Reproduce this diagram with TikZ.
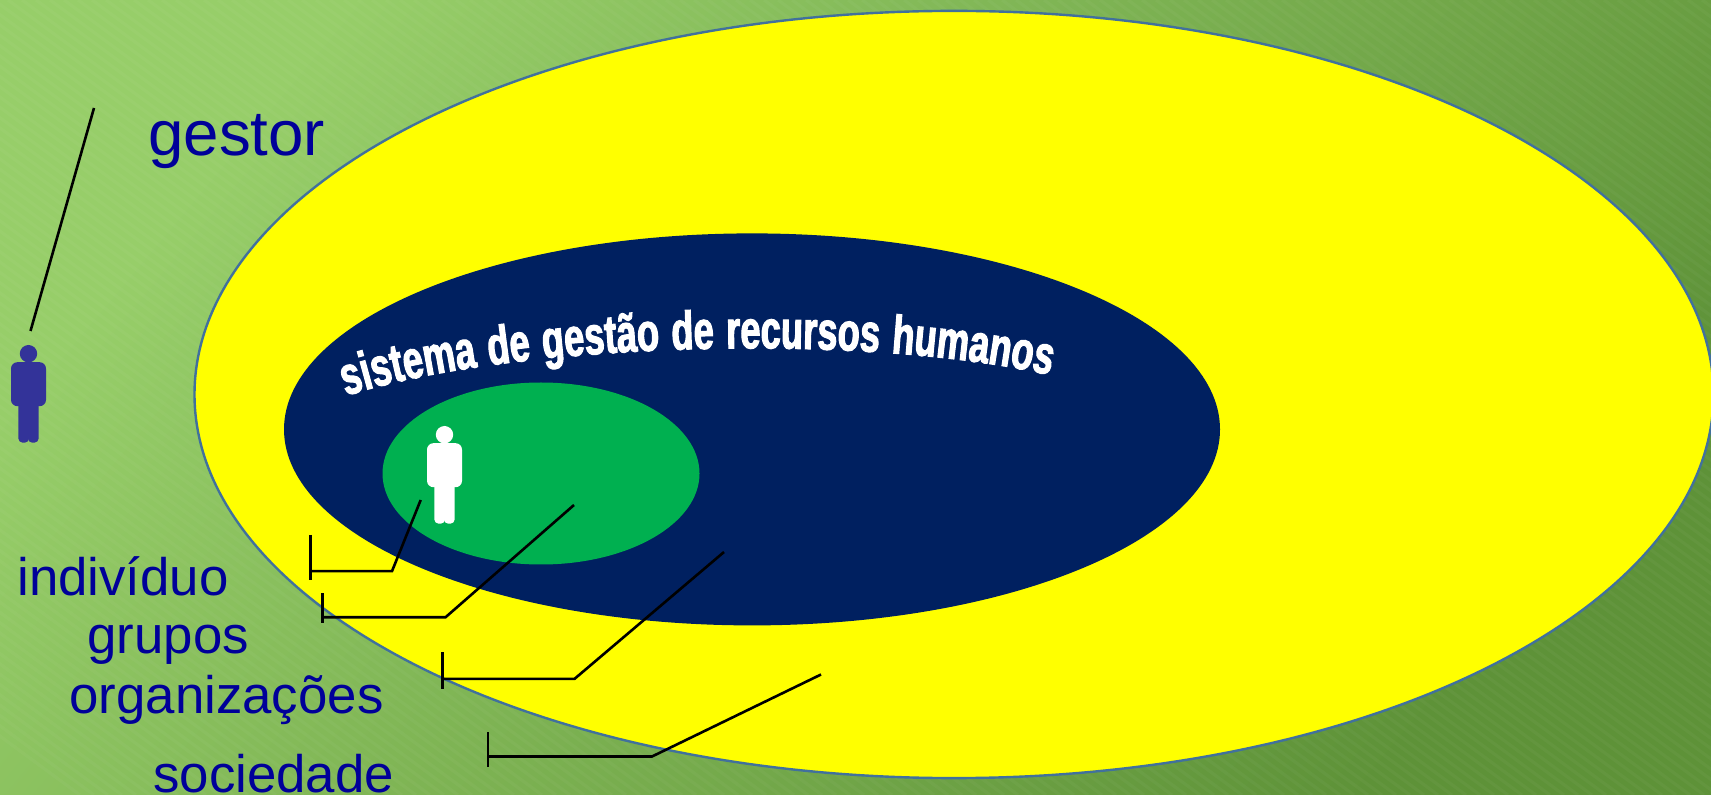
\documentclass[tikz,border=0pt]{standalone}
\usepackage{fontspec}
\setmainfont{Liberation Sans}
\newfontfamily\wafont[FakeStretch=0.67,FakeBold=2]{Liberation Sans Bold}
\usetikzlibrary{decorations.text}
\definecolor{bgA}{HTML}{97CE69}
\definecolor{bgC}{HTML}{5E9238}
\definecolor{labelblue}{HTML}{000099}
\definecolor{figblue}{HTML}{333399}
\definecolor{navyfill}{HTML}{002060}
\definecolor{greenfill}{HTML}{00B050}
\definecolor{rimblue}{HTML}{41719C}
\definecolor{sunyellow}{RGB}{255,255,0}
\tikzset{
  x=0.5pt,y=-0.5pt,
  lbl/.style={anchor=base west,inner sep=0pt,text=labelblue,font=\fontsize{26.4}{26}\selectfont},
  leader/.style={draw=black,line width=1.3pt,line join=miter},
  pics/person/.style={code={
    \fill[#1] (0,0) circle[radius=8.7];
    \fill[#1,rounded corners=3.2pt] (-17.5,8.5) rectangle (17.5,52.5);
    \fill[#1,rounded corners=2.2pt] (-10.2,40) rectangle (0.6,89);
    \fill[#1,rounded corners=2.2pt] (-0.6,40) rectangle (10.2,89);
  }}
}
\begin{document}
\begin{tikzpicture}
\useasboundingbox (0,0) rectangle (1711,795);
\begin{scope}
\clip (0,0) rectangle (1711,795);
\shade[left color=bgA,right color=bgC,shading angle=50] (0,0) rectangle (1711,795);
\foreach \s in {-1000,-986,...,1711} {
  \draw[white,opacity=0.03,line width=1.6pt] (\s,0) -- ++(1080,795);
}
\fill[sunyellow,draw=rimblue,line width=1.2pt] (954,394.5) ellipse[x radius=759.5,y radius=383.6];
\fill[navyfill] (752,429.4) ellipse[x radius=468,y radius=196];
\fill[greenfill] (541,473.5) ellipse[x radius=158.5,y radius=91];
\end{scope}

\pic at (28.5,353.7) {person=figblue};
\pic at (444.5,434.7) {person=white};

\path[decorate,decoration={text along path,text align={fit to path stretching spaces},
  text={|\wafont\fontsize{27}{27}\selectfont\color{white}|sistema de gestão de recursos humanos}}]
  (346,396) .. controls (500,345) and (850,330) .. (1050,375);

\node[lbl,font=\fontsize{31.8}{32}\selectfont] (gestor) at (148,156) {gestor};
\node[lbl] (individuo) at (17,596) {indivíduo};
\node[lbl] (grupos) at (87,653) {grupos};
\node[lbl] (organizacoes) at (69,713.5) {organizações};
\node[lbl] (sociedade) at (153,792) {sociedade};

\coordinate (gA) at (94,108);
\coordinate (gB) at (30.5,331);
\draw[leader] (gA) -- (gB);

\coordinate (iT) at (310.6,535); \coordinate (iB) at (310.6,579.5);
\coordinate (iM) at (310.6,571.2); \coordinate (iK) at (392,571.2); \coordinate (iE) at (420.7,500);
\draw[leader] (iT) -- (iB);
\draw[leader] (iM) -- (iK) -- (iE);

\coordinate (pT) at (322.6,593.3); \coordinate (pB) at (322.6,622.7);
\coordinate (pM) at (322.6,617.2); \coordinate (pK) at (445.6,617.2); \coordinate (pE) at (574,505);
\draw[leader] (pT) -- (pB);
\draw[leader] (pM) -- (pK) -- (pE);

\coordinate (oT) at (442.4,652.3); \coordinate (oB) at (442.4,689);
\coordinate (oM) at (442.4,678.8); \coordinate (oK) at (574.6,678.8); \coordinate (oE) at (724,552);
\draw[leader] (oT) -- (oB);
\draw[leader] (oM) -- (oK) -- (oE);

\coordinate (sT) at (488,732.3); \coordinate (sB) at (488,766.7);
\coordinate (sM) at (488,756.5); \coordinate (sK) at (652,756.5); \coordinate (sE) at (821,674.5);
\draw[leader] (sT) -- (sB);
\draw[leader] (sM) -- (sK) -- (sE);
\end{tikzpicture}
\end{document}
